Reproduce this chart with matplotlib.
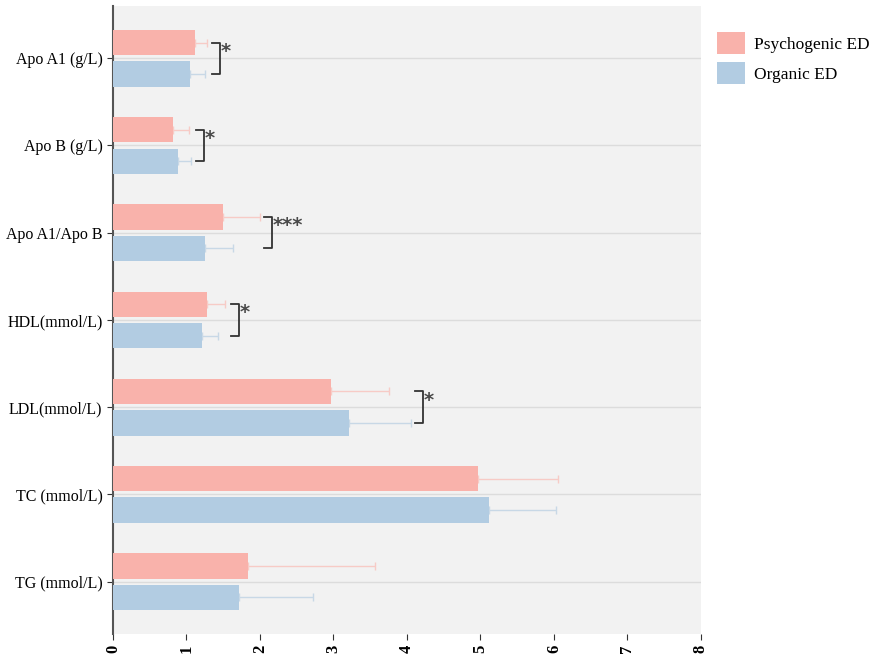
import matplotlib.pyplot as plt
import numpy as np
from matplotlib.patches import Patch

categories = ["Apo A1 (g/L)", "Apo B (g/L)", "Apo A1/Apo B", "HDL(mmol/L)",
              "LDL(mmol/L)", "TC (mmol/L)", "TG (mmol/L)"]
psycho_mean = [1.12, 0.82, 1.50, 1.28, 2.97, 4.97, 1.84]
psycho_sd = [0.16, 0.21, 0.50, 0.24, 0.78, 1.08, 1.72]
organic_mean = [1.05, 0.88, 1.25, 1.21, 3.21, 5.12, 1.71]
organic_sd = [0.20, 0.18, 0.38, 0.22, 0.84, 0.91, 1.01]

# significance brackets: category index, x position, label
sig_idx = [0, 1, 2, 3, 4]
sig_x = [1.46, 1.24, 2.16, 1.71, 4.22]
sig_text = ["*", "*", "***", "*", "*"]

pink = "#F9B2AB"
blue = "#B2CCE2"

plt.rcParams['font.family'] = ['Liberation Serif', 'DejaVu Serif']

fig = plt.figure(figsize=(8.86, 6.57), dpi=100)
ax = fig.add_axes([0.1275, 0.035, 0.6636, 0.956])
ax.set_facecolor("#F2F2F2")

y = np.arange(len(categories))
h = 0.29
off = 0.18

ax.barh(y - off, psycho_mean, height=h, color=pink, zorder=3)
ax.barh(y + off, organic_mean, height=h, color=blue, zorder=3)
ax.errorbar(psycho_mean, y - off, xerr=[np.zeros(len(y)), psycho_sd], fmt='none',
            ecolor="#F7CBC6", elinewidth=1.0, capsize=3, capthick=1.0, zorder=2)
ax.errorbar(organic_mean, y + off, xerr=[np.zeros(len(y)), organic_sd], fmt='none',
            ecolor="#C8D8E6", elinewidth=1.0, capsize=3, capthick=1.0, zorder=2)

for i, xs, t in zip(sig_idx, sig_x, sig_text):
    y0 = i - off
    y1 = i + off
    ax.plot([xs - 0.11, xs, xs, xs - 0.11], [y0, y0, y1, y1], color="#333333",
            lw=1.3, zorder=4)
    ax.text(xs + 0.01, i - 0.08, t, fontsize=14, color="#4A4A4A", fontweight='bold',
            ha='left', va='center', zorder=4, family='DejaVu Sans')

ax.set_yticks(y)
ax.set_yticklabels(categories, fontsize=11.5)
ax.set_ylim(len(categories) - 0.4, -0.6)
ax.set_xlim(0, 8)
ax.set_xticks(range(9))
ax.set_xticklabels([str(v) for v in range(9)], rotation=90, fontsize=12, fontweight='bold')
ax.grid(axis='y', color="#DCDCDC", lw=1, zorder=1)
ax.set_axisbelow(True)
for s in ['top', 'right', 'bottom']:
    ax.spines[s].set_visible(False)
ax.spines['left'].set_color("#555555")
ax.spines['left'].set_linewidth(1.5)
ax.tick_params(axis='both', color="#333333", length=4)

handles = [Patch(facecolor=pink, label="Psychogenic ED"),
           Patch(facecolor=blue, label="Organic ED")]
fig.legend(handles=handles, loc='upper left', bbox_to_anchor=(0.792, 0.975),
           frameon=False, fontsize=12.5, handlelength=1.6, handleheight=1.6,
           handletextpad=0.5, labelspacing=0.45)

fig.savefig("out.png", dpi=100)
